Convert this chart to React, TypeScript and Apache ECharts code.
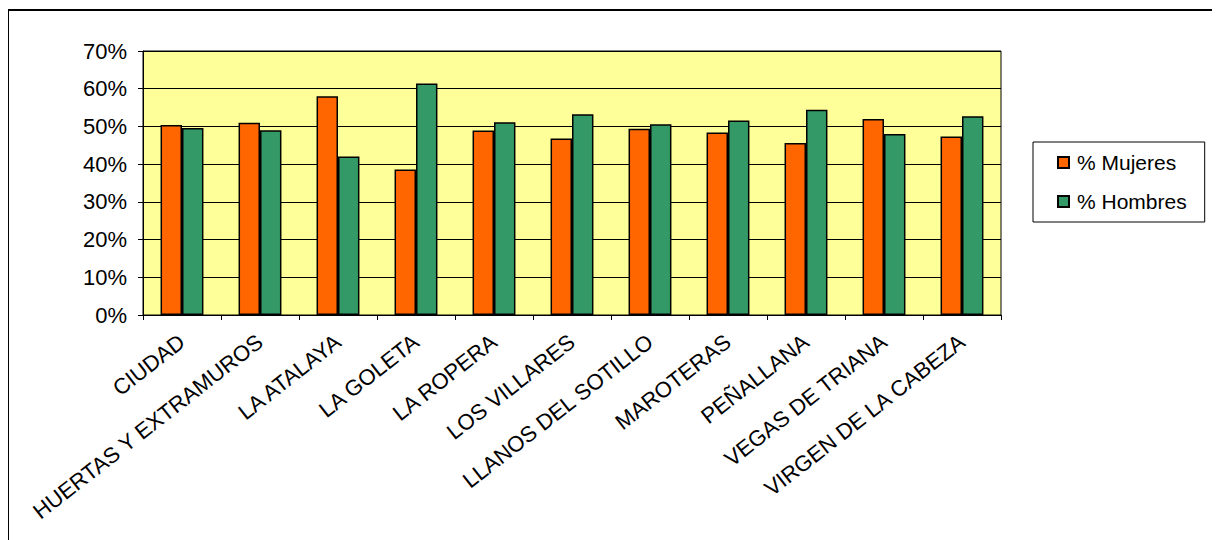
import React, { useEffect, useRef } from "react";
import * as echarts from "echarts";

const categories = [
  "CIUDAD",
  "HUERTAS Y EXTRAMUROS",
  "LA ATALAYA",
  "LA GOLETA",
  "LA ROPERA",
  "LOS VILLARES",
  "LLANOS DEL SOTILLO",
  "MAROTERAS",
  "PEÑALLANA",
  "VEGAS DE TRIANA",
  "VIRGEN DE LA CABEZA",
];
const mujeres = [50.4, 51.0, 58.0, 38.6, 48.9, 46.8, 49.4, 48.4, 45.6, 52.0, 47.3];
const hombres = [49.6, 49.0, 42.0, 61.4, 51.1, 53.2, 50.6, 51.6, 54.4, 48.0, 52.7];
const seriesNames = ["% Mujeres", "% Hombres"];
const yTicks = { min: 0, max: 70, interval: 10 };

const FONT = "'Liberation Sans', Arial, sans-serif";

export default function App() {
  const ref = useRef<HTMLDivElement>(null);
  useEffect(() => {
    if (!ref.current) return;
    const chart = echarts.init(ref.current, undefined, { renderer: "svg" });
    chart.setOption({
      animation: false,
      backgroundColor: "#ffffff",
      textStyle: { fontFamily: FONT },
      grid: {
        left: 135,
        top: 43,
        right: 219,
        bottom: 225,
        show: true,
        backgroundColor: "#FFFF99",
        borderColor: "#000000",
        borderWidth: 1,
      },
      legend: {
        orient: "vertical",
        left: 1025,
        top: 134,
        data: seriesNames,
        icon: "rect",
        itemWidth: 11,
        itemHeight: 11,
        itemGap: 18,
        padding: [10, 18, 10, 24],
        borderColor: "#000000",
        borderWidth: 1,
        backgroundColor: "#ffffff",
        textStyle: { fontFamily: FONT, fontSize: 21, color: "#000000", padding: [0, 0, 0, 3] },
      },
      xAxis: {
        type: "category",
        data: categories,
        axisLine: { lineStyle: { color: "#000000", width: 1 } },
        axisTick: { show: true, length: 5, lineStyle: { color: "#000000" } },
        axisLabel: {
          rotate: 38,
          interval: 0,
          margin: 24,
          fontFamily: FONT,
          fontSize: 22,
          color: "#000000",
        },
      },
      yAxis: {
        type: "value",
        min: yTicks.min,
        max: yTicks.max,
        interval: yTicks.interval,
        axisLine: { show: true, lineStyle: { color: "#000000", width: 1 } },
        axisTick: { show: true, length: 5, lineStyle: { color: "#000000" } },
        axisLabel: {
          formatter: "{value}%",
          margin: 16,
          fontFamily: FONT,
          fontSize: 22,
          color: "#000000",
        },
        splitLine: { show: true, lineStyle: { color: "#000000", width: 1 } },
      },
      series: [
        {
          name: seriesNames[0],
          type: "bar",
          data: mujeres,
          barWidth: "27.5%",
          barGap: "0%",
          itemStyle: { color: "#FF6600", borderColor: "#000000", borderWidth: 1.5 },
        },
        {
          name: seriesNames[1],
          type: "bar",
          data: hombres,
          barWidth: "27.5%",
          barGap: "0%",
          itemStyle: { color: "#339966", borderColor: "#000000", borderWidth: 1.5 },
        },
      ],
      graphic: [
        {
          type: "line",
          shape: { x1: -1, y1: 2, x2: 1220, y2: 2 },
          style: { stroke: "#000000", lineWidth: 2 },
          silent: true,
        },
        {
          type: "line",
          shape: { x1: 0, y1: 2, x2: 0, y2: 540 },
          style: { stroke: "#000000", lineWidth: 2 },
          silent: true,
        },
      ],
    });
    return () => chart.dispose();
  }, []);
  return <div ref={ref} style={{ width: 1212, height: 532 }} />;
}
